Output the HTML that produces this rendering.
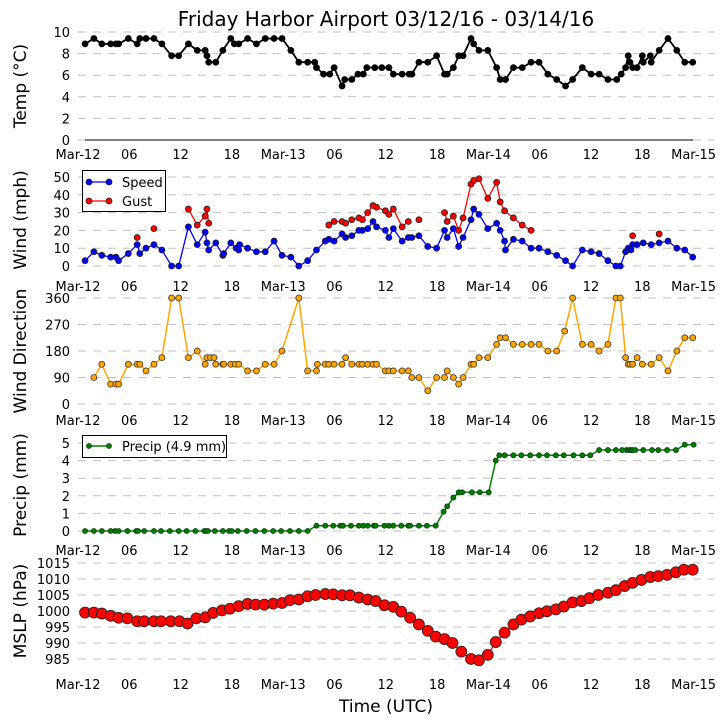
<!DOCTYPE html>
<html><head><meta charset="utf-8"><style>
body{margin:0;background:#fff;}
svg{display:block;font-family:"DejaVu Sans","Liberation Sans",sans-serif;}
</style></head><body>
<svg id="c" width="726" height="725" viewBox="0 0 726 725">
<rect width="726" height="725" fill="#fff"/>
<text x="386" y="26" font-size="20" text-anchor="middle">Friday Harbor Airport 03/12/16 - 03/14/16</text>
<text x="386" y="712" font-size="17" text-anchor="middle">Time (UTC)</text>
</svg>
<script>
const xTickLabels=["Mar-12","06","12","18","Mar-13","06","12","18","Mar-14","06","12","18","Mar-15"];
const tempH=[0.8,1.8,2.7,3.7,4.3,4.6,5.7,6.7,7.0,7.7,8.6,9.5,10.6,11.4,12.5,13.5,14.4,14.6,14.8,15.6,16.4,17.3,17.7,18.2,19.2,20.2,21.2,22.2,23.1,24.1,25.0,26.0,26.8,27.0,27.8,28.5,29.0,29.9,30.2,31.0,31.7,32.3,32.7,33.6,34.4,35.2,35.7,36.7,37.5,37.8,38.6,39.6,40.6,41.5,41.8,42.5,43.1,43.6,44.5,44.8,45.4,46.4,47.4,47.8,48.4,49.3,50.3,51.3,52.2,53.2,54.2,55.2,56.0,57.1,58.1,59.0,60.0,61.0,61.5,62.0,62.3,62.5,62.8,63.3,63.9,64.0,64.8,64.9,65.8,66.8,67.8,68.7,69.6];
const tempV=[8.9,9.4,8.9,8.9,8.9,8.9,9.4,8.9,9.4,9.4,9.4,8.9,7.8,7.8,8.9,8.3,8.3,7.8,7.2,7.2,8.3,9.4,8.9,8.9,9.4,8.9,9.4,9.4,9.4,8.3,7.2,7.2,7.2,6.7,6.1,6.1,6.7,5.0,5.6,5.6,6.1,6.1,6.7,6.7,6.7,6.7,6.1,6.1,6.1,6.1,7.2,7.2,7.8,6.1,6.1,6.7,7.8,7.8,9.4,8.9,8.3,8.3,6.7,5.6,5.6,6.7,6.7,7.2,7.2,6.1,5.6,5.0,5.6,6.7,6.1,6.1,5.6,5.6,6.1,6.7,7.8,7.2,6.7,6.7,7.8,7.2,7.8,7.2,8.3,9.4,8.3,7.2,7.2];
const tempTicks=[0,2,4,6,8,10];
const speedH=[0.8,1.8,2.7,3.7,4.3,4.6,5.7,6.7,7.0,7.7,8.6,9.5,10.6,11.4,12.5,13.5,14.4,14.6,14.8,15.6,16.4,16.5,17.3,17.9,18.2,18.3,19.2,20.2,21.2,22.2,23.1,24.1,25.0,26.0,27.0,28.0,28.4,29.0,29.9,30.3,31.0,31.8,32.2,32.8,33.4,33.8,34.8,35.2,35.7,36.7,37.4,37.8,38.6,39.6,40.6,41.5,41.8,42.5,43.1,43.6,44.5,44.8,45.4,46.4,47.4,47.8,48.3,48.4,49.3,50.3,51.3,52.2,53.2,54.2,55.2,56.0,57.1,58.1,59.0,60.0,60.9,61.4,62.0,62.3,62.6,62.8,63.3,64.0,64.9,65.8,66.8,67.8,68.7,69.6];
const speedV=[3,8,6,5,5,3,7,12,7,10,12,9,0,0,22,12,19,13,9,13,6,7,13,10,9,12,10,8,8,14,6,5,0,3,9,14,15,14,18,16,17,20,20,21,25,22,20,16,21,14,16,16,17,11,10,20,16,21,11,16,26,32,29,21,24,20,14,9,15,14,10,10,8,6,3,0,9,8,7,3,0,0,8,10,9,12,12,13,12,13,14,10,9,5];
const gustH=[6.7,7.5,8.6,9.5,12.5,13.5,14.4,14.6,14.8,20,28.4,29.0,29.9,30.3,31.0,31.8,32.2,32.8,33.4,33.8,34.8,35.2,35.7,36.7,37.4,38.0,38.6,40.0,41.5,41.8,42.5,43.1,43.6,44.5,44.8,45.4,46.4,47.4,47.8,48.3,49.3,50.3,51.3,55,62.8,64,65.8];
const gustV=[16,null,21,null,32,23,28,32,24,null,23,25,25,24,26,27,26,30,34,33,31,29,32,22,25,null,26,null,30,25,28,20,27,46,48,49,38,47,36,31,27,23,20,null,17,null,18];
const windTicks=[0,10,20,30,40,50];
const dirH=[1.8,2.7,3.7,4.3,4.6,5.7,6.7,7.0,7.7,8.6,9.5,10.6,11.4,12.5,13.5,14.4,14.6,15.0,15.4,15.6,16.4,16.5,17.3,17.8,18.2,19.2,20.2,21.2,22.2,23.1,25.0,26.0,27.0,27.1,28.0,28.4,29.0,29.9,30.3,31.0,31.8,32.2,32.8,33.4,33.8,34.8,35.2,35.7,36.7,37.4,37.8,38.6,39.6,40.6,41.5,41.8,42.5,43.1,43.6,44.5,44.8,45.4,46.4,47.4,47.8,48.4,49.3,50.3,51.3,52.2,53.2,54.2,55.1,56.0,57.1,58.1,59.0,60.0,60.9,61.4,62.0,62.3,62.5,62.8,63.3,63.9,64.9,65.8,66.8,67.8,68.7,69.6];
const dirV=[90,135,67.5,67.5,67.5,135,135,135,112.5,135,157.5,360,360,157.5,180,135,157.5,157.5,157.5,135,135,135,135,135,135,112.5,112.5,135,135,180,360,112.5,112.5,135,135,135,135,135,157.5,135,135,135,135,135,135,112.5,112.5,112.5,112.5,112.5,90,90,45,90,90,112.5,90,67.5,90,135,135,157.5,157.5,202.5,225,225,202.5,202.5,202.5,202.5,180,180,247.5,360,202.5,202.5,180,202.5,360,360,157.5,135,135,135,157.5,135,135,157.5,112.5,180,225,225];
const dirTicks=[0,90,180,270,360];
const precipH=[0.8,1.8,2.7,3.7,4.2,4.6,5.6,6.6,6.8,7.5,8.6,9.4,10.4,11.4,12.3,13.3,14.3,14.5,14.7,15.5,16.4,17.1,17.4,18.1,19.1,20.1,21.1,22.1,23.0,24.0,25.0,26.0,27.0,28.0,28.9,29.7,30.0,30.9,31.8,32.3,32.8,33.5,33.7,34.7,35.2,35.7,36.6,37.4,37.6,38.6,39.5,40.5,41.4,41.8,42.5,43.1,43.5,44.6,45.5,46.5,47.3,47.7,48.3,49.3,50.2,51.2,52.2,53.1,54.1,55.0,56.1,57.1,58.0,59.0,60.0,60.9,61.6,62.1,62.4,62.6,62.8,63.1,64.0,65.0,65.7,66.7,67.7,68.7,69.7];
const precipV=[0,0,0,0,0,0,0,0,0,0,0,0,0,0,0,0,0,0,0,0,0,0,0,0,0,0,0,0,0,0,0,0,0.3,0.3,0.3,0.3,0.3,0.3,0.3,0.3,0.3,0.3,0.3,0.3,0.3,0.3,0.3,0.3,0.3,0.3,0.3,0.3,1.1,1.4,1.9,2.2,2.2,2.2,2.2,2.2,4.0,4.3,4.3,4.3,4.3,4.3,4.3,4.3,4.3,4.3,4.3,4.3,4.3,4.6,4.6,4.6,4.6,4.6,4.6,4.6,4.6,4.6,4.6,4.6,4.6,4.6,4.6,4.9,4.9];
const precipTicks=[0,1,2,3,4,5];
const mslpH=[0.8,1.8,2.7,3.7,4.6,5.6,6.7,7.5,8.6,9.4,10.5,11.5,12.4,13.4,14.4,15.3,16.3,17.2,18.2,19.2,20.1,21.1,22.1,23.1,24.0,25.0,26.0,26.9,28.0,28.9,29.9,30.8,31.8,32.8,33.7,34.7,35.7,36.6,37.6,38.6,39.6,40.5,41.5,42.4,43.4,44.5,45.4,46.4,47.3,48.3,49.3,50.2,51.2,52.2,53.1,54.1,55.0,56.0,57.0,57.9,58.9,60.0,60.9,61.9,62.8,63.8,64.8,65.7,66.7,67.7,68.6,69.6];
const mslpV=[999.5,999.5,999.2,998.5,997.9,997.7,996.8,996.8,996.8,996.8,996.8,996.8,996.1,997.7,998.0,999.4,1000.2,1000.7,1001.5,1002.2,1002.0,1002.0,1002.3,1002.5,1003.4,1003.6,1004.6,1005.0,1005.3,1005.2,1004.9,1004.9,1004.2,1003.6,1003.1,1001.8,1001.3,999.8,997.9,995.8,993.8,992.0,991.2,990.0,987.3,985.0,984.6,986.3,990.3,993.2,995.8,997.3,998.3,999.3,999.9,1000.5,1001.4,1002.7,1003.1,1004.0,1005.0,1005.7,1006.5,1007.8,1008.8,1009.7,1010.6,1010.9,1011.3,1012.1,1012.9,1012.9];
const mslpTicks=[985,990,995,1000,1005,1010,1015];

const NS="http://www.w3.org/2000/svg";
const svg=document.getElementById('c');
const X0=78,X1=714,PX_PER_H=8.55;
function xs(h){return X0+h*PX_PER_H*1.033;}
function xt(h){return X0+h*PX_PER_H;}
function mk(tag,attrs,parent){const e=document.createElementNS(NS,tag);for(const k in attrs)e.setAttribute(k,attrs[k]);(parent||svg).appendChild(e);return e;}

function panel(o){
  const g=mk('g',{});
  
  
  const ys=v=>o.yA+(v-o.vA)*(o.yB-o.yA)/(o.vB-o.vA);
  o.ticks.forEach(t=>{
    const y=ys(t);
    const l=mk('line',{x1:X0,x2:X1,y1:y,y2:y,stroke:'#c0c0c0','stroke-width':1,'stroke-dasharray':'8,7'},g);
    
    
    const tx=mk('text',{x:70,y:y+5,'font-size':13,'text-anchor':'end'},g);
    tx.textContent=t;
    
    
  });
  xTickLabels.forEach((s,i)=>{
    const tx=mk('text',{x:xt(i*6),y:o.xLabY,'font-size':13,'text-anchor':'middle'},g);
    tx.textContent=s;
    
    
  });
  const yl=mk('text',{x:0,y:0,'font-size':17,'text-anchor':'middle',transform:`translate(${o.ylX},${o.ylY}) rotate(-90)`},g);
  yl.textContent=o.ylabel;
  
  
  return {g,ys};
}
function series(p,H,V,color,r,edge,lw,name){
  let d='',pen=false;
  H.forEach((h,i)=>{const v=V[i];if(v===null||v===undefined){pen=false;return;}d+=(pen?'L':'M')+xs(h).toFixed(1)+','+p.ys(v).toFixed(1);pen=true;});
  const path=mk('path',{d,fill:'none',stroke:color,'stroke-width':lw},p.g);
  
  
  H.forEach((h,i)=>{const v=V[i];if(v===null||v===undefined)return;
    const c=mk('circle',{cx:xs(h),cy:p.ys(v),r,fill:color,stroke:edge,'stroke-width':0.8},p.g);
    
    
  });
}

// Temp
const p1=panel({name:'temp',ticks:tempTicks,vA:0,yA:140,vB:10,yB:32,xLabY:159,ylabel:'Temp (°C)',ylX:26,ylY:86});
const zl=mk('line',{x1:85,x2:693,y1:140,y2:140,stroke:'#333','stroke-width':1.2},p1.g);


series(p1,tempH,tempV,'#000',3,'#000',1.8,'temp');

// Wind
const p2=panel({name:'wind',ticks:windTicks,vA:0,yA:266,vB:50,yB:177,xLabY:291,ylabel:'Wind (mph)',ylX:26,ylY:220});
series(p2,speedH,speedV,'#0000ff',3,'#222',1.3,'speed');
series(p2,gustH,gustV,'#ff0000',3,'#222',1.3,'gust');
const lg=mk('g',{},p2.g);


mk('rect',{x:82.5,y:170.5,width:83,height:41,fill:'#fff',stroke:'#000','stroke-width':1},lg);
[['Speed','#0000ff',182],['Gust','#ff0000',201]].forEach(a=>{
  mk('line',{x1:89,x2:109,y1:a[2],y2:a[2],stroke:a[1],'stroke-width':1.3},lg);
  mk('circle',{cx:89,cy:a[2],r:3,fill:a[1],stroke:'#222','stroke-width':0.8},lg);
  mk('circle',{cx:109,cy:a[2],r:3,fill:a[1],stroke:'#222','stroke-width':0.8},lg);
  const t=mk('text',{x:122,y:a[2]+5,'font-size':13},lg);t.textContent=a[0];
  
  
});

// Direction
const p3=panel({name:'direction',ticks:dirTicks,vA:0,yA:404,vB:360,yB:298,xLabY:425,ylabel:'Wind Direction',ylX:26,ylY:351});
series(p3,dirH,dirV,'#ffa500',3,'#333',1.5,'direction');

// Precip
const p4=panel({name:'precip',ticks:precipTicks,vA:0,yA:531,vB:5,yB:443,xLabY:555,ylabel:'Precip (mm)',ylX:26,ylY:485});
series(p4,precipH,precipV,'#008000',2.5,'#0a3a0a',1.5,'precip');
const lg2=mk('g',{},p4.g);


mk('rect',{x:82.5,y:435.5,width:144,height:22,fill:'#fff',stroke:'#000','stroke-width':1},lg2);
mk('line',{x1:89,x2:109,y1:446,y2:446,stroke:'#008000','stroke-width':1.5},lg2);
mk('circle',{cx:89,cy:446,r:2.5,fill:'#008000',stroke:'#0a3a0a','stroke-width':0.8},lg2);
mk('circle',{cx:109,cy:446,r:2.5,fill:'#008000',stroke:'#0a3a0a','stroke-width':0.8},lg2);
const pt=mk('text',{x:122,y:451,'font-size':13},lg2);pt.textContent='Precip (4.9 mm)';



// MSLP
const p5=panel({name:'mslp',ticks:mslpTicks,vA:985,yA:659,vB:1015,yB:563,xLabY:689,ylabel:'MSLP (hPa)',ylX:26,ylY:611});
series(p5,mslpH,mslpV,'#ff0000',5.5,'#222',1.3,'mslp');
</script>
</body></html>
